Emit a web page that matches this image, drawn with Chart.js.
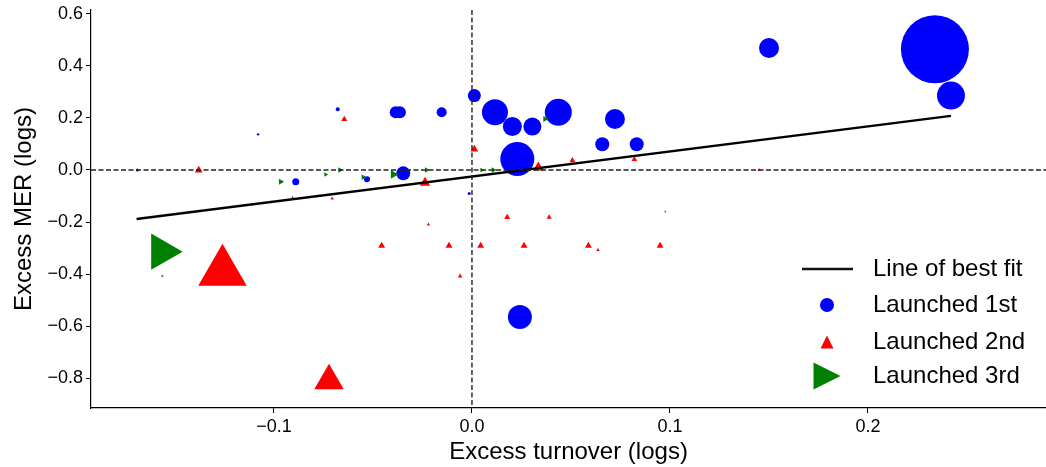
<!DOCTYPE html>
<html>
<head>
<meta charset="utf-8">
<script src="https://cdn.jsdelivr.net/npm/chart.js@4.4.1/dist/chart.umd.min.js"></script>
<style>
body { margin: 0; background: #fff; }
canvas { display: block; }
</style>
</head>
<body>
<canvas id="myChart" width="1046" height="467"></canvas>
<script>
// launched 1st (blue circles), marker radius in px
var firstX = [0.2338, 0.150, 0.2419, 0.0012, 0.0116, 0.0436, 0.0204, 0.0305, 0.0722, 0.0229, 0.0658, 0.0832,
	-0.0385, -0.0364, -0.0153, -0.0347, -0.0678, -0.0890, -0.0530, -0.1690, -0.1080, -0.0014, 0.0242];
var firstY = [0.464, 0.469, 0.286, 0.286, 0.222, 0.222, 0.167, 0.167, 0.196, 0.042, 0.099, 0.099,
	0.222, 0.222, 0.222, -0.013, 0.233, -0.045, -0.036, 0.000, 0.137, -0.090, -0.565];
var firstR = [34, 10, 14, 6.5, 13, 13.5, 9.5, 9, 10, 17, 7, 7,
	6, 6, 5, 7, 2, 3.5, 3, 1.5, 1.2, 1.5, 12];

// launched 2nd (red triangles)
var secondX = [-0.1260, -0.0722, -0.1380, -0.0645, -0.0706, -0.0906, -0.0237, 0.0012, 0.0335, 0.0507, 0.0820, 0.1450,
	-0.0220, -0.0456, -0.0116, -0.0060, 0.0044, 0.0178, 0.0263, 0.0390, 0.0588, 0.0636, 0.0950, 0.0976];
var secondY = [-0.391, -0.810, -0.001, 0.195, -0.110, -0.106, -0.049, 0.080, 0.010, 0.036, 0.041, 0.000,
	-0.210, -0.291, -0.291, -0.408, -0.291, -0.182, -0.291, -0.182, -0.291, -0.308, -0.291, -0.160];
var secondR = [28, 17, 4.5, 3.5, 2, 1.5, 6, 4.5, 6, 3.5, 3.3, 2,
	2, 4, 4, 2.6, 4, 3.5, 4, 3, 4, 2, 4, 1.3];

// launched 3rd (green right-pointing triangles)
var thirdX = [-0.1567, -0.1564, -0.0966, -0.0739, -0.0667, -0.0549, -0.0397, -0.0229, 0.0049, 0.0108, 0.0369];
var thirdY = [-0.314, -0.408, -0.045, -0.017, 0.000, -0.028, -0.017, 0.000, 0.000, 0.000, 0.196];
var thirdR = [21, 1.5, 3.5, 2.6, 3.2, 3.2, 5, 3.2, 2.6, 3.2, 3.5];

var fitX = [-0.1694, 0.2419];
var fitY = [-0.188, 0.208];

var xTicks = [-0.1, 0, 0.1, 0.2];
var yTicks = [-0.8, -0.6, -0.4, -0.2, 0, 0.2, 0.4, 0.6];
var legendLabels = ['Line of best fit', 'Launched 1st', 'Launched 2nd', 'Launched 3rd'];

var FONT = '"Liberation Sans", Arial, sans-serif';

function points(xs, ys, rs) {
	var out = [];
	for (var i = 0; i < xs.length; i++) {
		out.push({ x: xs[i], y: ys[i], r: rs ? rs[i] : 0 });
	}
	return out;
}

function fmt(v) {
	var s = Math.abs(v).toFixed(1);
	return (v < -1e-9 ? '\u2212' : '') + s;
}

function tri(ctx, x, y, r, rot) {
	// matplotlib-style triangle, centred on its bounding box
	ctx.beginPath();
	if (rot) {
		ctx.moveTo(x + r, y);
		ctx.lineTo(x - r, y - r);
		ctx.lineTo(x - r, y + r);
	} else {
		ctx.moveTo(x, y - r);
		ctx.lineTo(x - r, y + r);
		ctx.lineTo(x + r, y + r);
	}
	ctx.closePath();
	ctx.fill();
}

var zeroLines = {
	id: 'zeroLines',
	afterDatasetsDraw: function(chart) {
		var ctx = chart.ctx, a = chart.chartArea;
		var x0 = chart.scales.x.getPixelForValue(0);
		var y0 = chart.scales.y.getPixelForValue(0);
		ctx.save();
		ctx.strokeStyle = '#222';
		ctx.lineWidth = 1.4;
		ctx.setLineDash([5, 2.5]);
		ctx.beginPath();
		ctx.moveTo(x0, a.top);
		ctx.lineTo(x0, a.bottom);
		ctx.moveTo(a.left, y0);
		ctx.lineTo(a.right, y0);
		ctx.stroke();
		ctx.restore();
	}
};

var legendBox = {
	id: 'legendBox',
	afterDraw: function(chart) {
		var ctx = chart.ctx;
		var rows = [269, 305, 342, 376];
		var mx = 827, tx = 873;
		ctx.save();
		ctx.strokeStyle = '#111';
		ctx.lineWidth = 2.5;
		ctx.beginPath();
		ctx.moveTo(802, rows[0]);
		ctx.lineTo(853, rows[0]);
		ctx.stroke();
		ctx.fillStyle = '#0000ff';
		ctx.beginPath();
		ctx.arc(mx, rows[1], 7, 0, Math.PI * 2);
		ctx.fill();
		ctx.fillStyle = '#ff0000';
		tri(ctx, mx, rows[2], 6.5, false);
		ctx.fillStyle = '#008000';
		tri(ctx, mx, rows[3], 13.5, true);
		ctx.fillStyle = '#000';
		ctx.font = '24px ' + FONT;
		ctx.textBaseline = 'middle';
		for (var i = 0; i < legendLabels.length; i++) {
			ctx.fillText(legendLabels[i], tx, rows[i]);
		}
		ctx.restore();
	}
};

Chart.defaults.font.family = FONT;
Chart.defaults.color = '#000';

var ctx = document.getElementById('myChart');
var myChart = new Chart(ctx, {
	type: 'bubble',
	data: {
		datasets: [{
			type: 'line',
			label: legendLabels[0],
			data: points(fitX, fitY),
			borderColor: '#000',
			borderWidth: 2.5,
			pointRadius: 0,
			fill: false,
			order: 0
		}, {
			label: legendLabels[3],
			data: points(thirdX, thirdY, thirdR),
			backgroundColor: '#008000',
			borderWidth: 0,
			pointStyle: 'triangle',
			rotation: 90,
			order: 1
		}, {
			label: legendLabels[2],
			data: points(secondX, secondY, secondR),
			backgroundColor: '#ff0000',
			borderWidth: 0,
			pointStyle: 'triangle',
			order: 2
		}, {
			label: legendLabels[1],
			data: points(firstX, firstY, firstR),
			backgroundColor: '#0000ff',
			borderWidth: 0,
			order: 3
		}]
	},
	options: {
		responsive: false,
		animation: false,
		layout: { autoPadding: false, padding: { top: 10, right: 0, left: 0, bottom: 0 } },
		plugins: {
			legend: { display: false },
			tooltip: { enabled: false }
		},
		scales: {
			x: {
				type: 'linear',
				min: -0.1924,
				max: 0.2899,
				afterFit: function(s) {
					s.height = 59;
					s.paddingLeft = 0;
					s.paddingRight = 0;
				},
				afterBuildTicks: function(s) { s.ticks = xTicks.map(function(v) { return { value: v }; }); },
				ticks: { callback: fmt, font: { size: 18 }, padding: 3, maxRotation: 0 },
				grid: { drawOnChartArea: false, tickLength: 5, tickColor: '#000' },
				border: { color: '#000', width: 1.2 },
				title: { display: true, text: 'Excess turnover (logs)', font: { size: 24 }, padding: { top: 0, bottom: 0 } }
			},
			y: {
				type: 'linear',
				min: -0.915,
				max: 0.615,
				afterFit: function(s) {
					s.width = 91;
					s.paddingTop = 0;
					s.paddingBottom = 0;
				},
				afterBuildTicks: function(s) { s.ticks = yTicks.map(function(v) { return { value: v }; }); },
				ticks: { callback: fmt, font: { size: 18 }, padding: 3 },
				grid: { drawOnChartArea: false, tickLength: 5, tickColor: '#000' },
				border: { color: '#000', width: 1.2 },
				title: { display: true, text: 'Excess MER (logs)', font: { size: 24 }, padding: { top: 10, bottom: 0 } }
			}
		}
	},
	plugins: [zeroLines, legendBox]
});
</script>
</body>
</html>
